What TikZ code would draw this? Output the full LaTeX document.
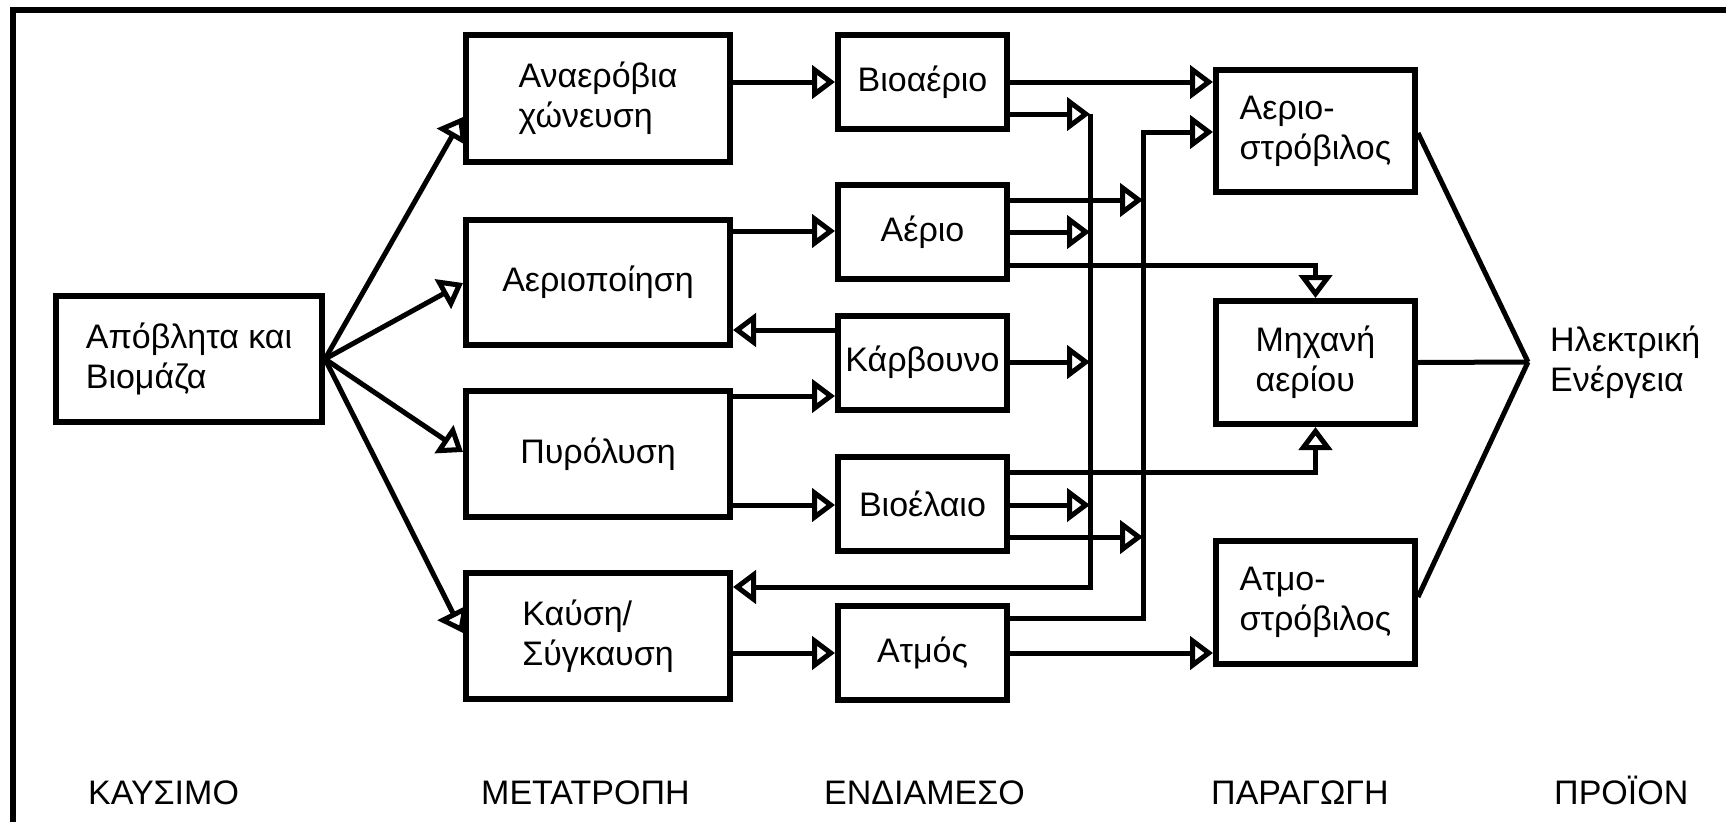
\documentclass[tikz,border=0pt]{standalone}
\usepackage{fontspec}
\setmainfont{Liberation Sans}
\usetikzlibrary{arrows.meta}
\begin{document}
\begin{tikzpicture}[x=1pt,y=-1pt,
  every node/.style={font=\fontsize{34}{40}\selectfont},
  box/.style={draw, line width=6pt, inner sep=0pt, align=left},
  bigbox/.style={box, minimum width=264pt, minimum height=126pt},
  midbox/.style={box, minimum width=169pt, minimum height=94pt},
  prodbox/.style={box, minimum width=199pt, minimum height=123pt},
  conn/.style={line width=5pt},
  arr/.style={conn, -{Triangle[open,length=23pt,width=33pt]}},
  lbl/.style={anchor=base west, inner sep=0pt}]
\useasboundingbox (0,0) rectangle (1726,822);
\fill[white] (0,0) rectangle (1726,822);
% frame
\draw[line width=6pt] (13,822) -- (13,10) -- (1726,10);

% boxes
\node[box, minimum width=266pt, minimum height=126pt] (src) at (189,359) {Απόβλητα και\\Βιομάζα};
\node[bigbox, minimum height=127pt] (ad) at (598,98.5) {Αναερόβια\\χώνευση};
\node[bigbox, minimum height=125pt] (gas) at (598,282.5) {Αεριοποίηση};
\node[bigbox] (pyr) at (598,454) {Πυρόλυση};
\node[bigbox] (comb) at (598,636) {Καύση/\\Σύγκαυση};

\node[midbox] (biogas) at (922.5,82) {Βιοαέριο};
\node[midbox] (aerio) at (922.5,232) {Αέριο};
\node[midbox] (coal) at (922.5,362.5) {Κάρβουνο};
\node[midbox] (oil) at (922.5,504) {Βιοέλαιο};
\node[midbox] (steam) at (922.5,653) {Ατμός};

\node[prodbox, minimum height=122pt] (gt) at (1315.5,131) {Αεριο-\\στρόβιλος};
\node[prodbox] (ge) at (1315.5,362.5) {Μηχανή\\αερίου};
\node[prodbox] (st) at (1315.5,602.5) {Ατμο-\\στρόβιλος};

\node[anchor=west, align=left, inner sep=0pt] (el) at (1550,362) {Ηλεκτρική\\Ενέργεια};

% bottom labels
\node[lbl] (l1) at (88,804) {ΚΑΥΣΙΜΟ};
\node[lbl] (l2) at (481,804) {ΜΕΤΑΤΡΟΠΗ};
\node[lbl] (l3) at (824,804) {ΕΝΔΙΑΜΕΣΟ};
\node[lbl] (l4) at (1211,804) {ΠΑΡΑΓΩΓΗ};
\node[lbl] (l5) at (1554,804) {ΠΡΟΪΟΝ};

% helper coordinates
\coordinate (Atop) at (1090,114);
\coordinate (Abot) at (1090,587);
\coordinate (Btop) at (1143,132);
\coordinate (Bbot) at (1143,618);
\coordinate (E) at (1528,362);

% fan
\draw[arr] (src.east) -- (ad.west |- 0,117);
\draw[arr] (src.east) -- (gas.west |- 0,283);
\draw[arr] (src.east) -- (pyr.west |- 0,452);
\draw[arr] (src.east) -- (comb.west |- 0,633);

% conversion -> intermediate
\draw[arr] (ad.east |- 0,82) -- (biogas.west |- 0,82);
\draw[arr] (gas.east |- 0,231) -- (aerio.west |- 0,231);
\draw[arr] (coal.west |- 0,330) -- (gas.east |- 0,330);
\draw[arr] (pyr.east |- 0,396) -- (coal.west |- 0,396);
\draw[arr] (pyr.east |- 0,505) -- (oil.west |- 0,505);
\draw[arr] (comb.east |- 0,653) -- (steam.west |- 0,653);

% collector line A back to combustion
\draw[arr] (Atop) -- (Abot) -- (comb.east |- Abot);
% collector line B to gas turbine
\draw[arr] (steam.east |- Bbot) -- (Bbot) -- (Btop) -- (gt.west |- Btop);

% intermediate -> lines / production
\draw[arr] (biogas.east |- 0,82) -- (gt.west |- 0,82);
\draw[arr] (biogas.east |- 0,114) -- (Atop);
\draw[arr] (aerio.east |- 0,200) -- (Btop |- 0,200);
\draw[arr] (aerio.east |- 0,232) -- (Atop |- 0,232);
\draw[arr] (aerio.east |- 0,265) -| (ge.north);
\draw[arr] (coal.east |- 0,362) -- (Atop |- 0,362);
\draw[arr] (oil.east |- 0,472) -| (ge.south);
\draw[arr] (oil.east |- 0,505) -- (Atop |- 0,505);
\draw[arr] (oil.east |- 0,537) -- (Btop |- 0,537);
\draw[arr] (steam.east |- 0,653) -- (st.west |- 0,653);

% production -> electricity
\draw[conn] (gt.east |- 0,133) -- (E);
\draw[conn] (ge.east) -- (E);
\draw[conn] (st.east |- 0,597) -- (E);
\end{tikzpicture}
\end{document}
